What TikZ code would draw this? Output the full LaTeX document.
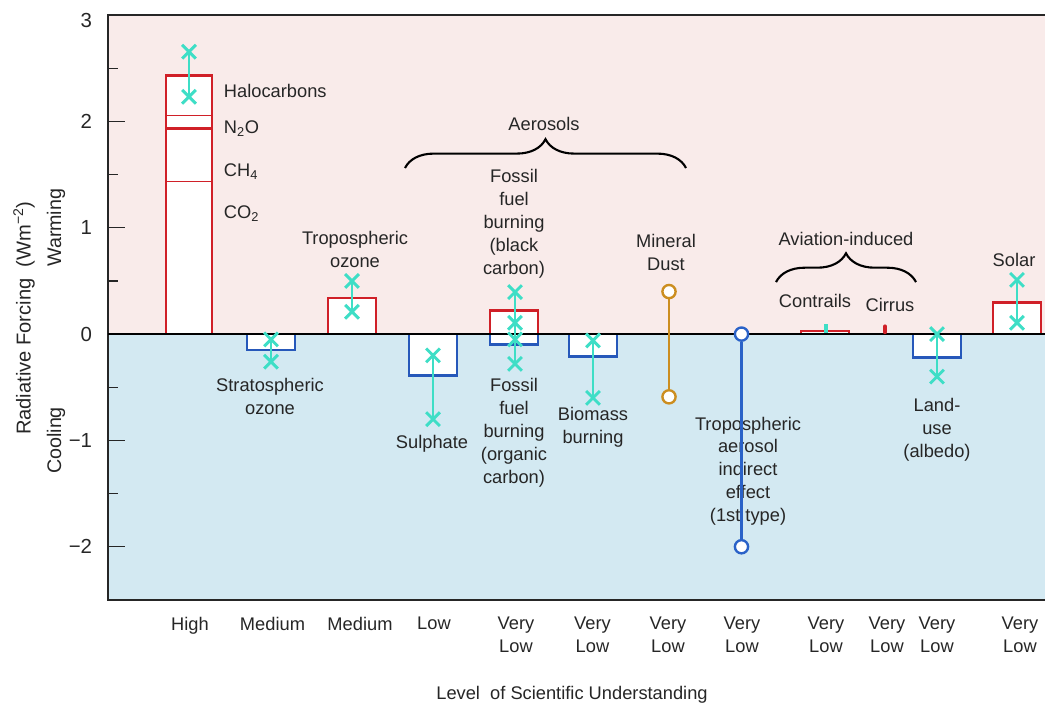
\documentclass[tikz,border=0pt]{standalone}
\usepackage{fontspec}
\setmainfont{Liberation Sans}
\usepackage{xcolor}
\usepackage{tikz}
\usetikzlibrary{shapes.misc,decorations.pathreplacing}
\definecolor{warmbg}{RGB}{249,235,234}
\definecolor{coolbg}{RGB}{211,233,242}
\definecolor{barred}{RGB}{208,32,40}
\definecolor{barblue}{RGB}{38,88,186}
\definecolor{errcyan}{RGB}{62,222,198}
\definecolor{dustgold}{RGB}{204,142,32}
\definecolor{indblue}{RGB}{42,98,200}
\tikzset{
  frameline/.style={draw=black!85, line width=0.9pt},
  warmbar/.style={draw=barred, fill=white, line width=1.9pt},   % positive forcing
  coolbar/.style={draw=barblue, fill=white, line width=1.9pt},  % negative forcing
  errline/.style={errcyan, line width=1.4pt},
  errmark/.style={cross out, draw=errcyan, line width=2.1pt, minimum size=0.27cm, inner sep=0pt},
  ringmark/.style={circle, fill=white, line width=1.7pt, minimum size=0.33cm, inner sep=0pt},
  lbl/.style={font=\fontsize{13}{16.3}\selectfont, align=center, text=black!85},
  levlbl/.style={lbl, anchor=north, inner sep=0pt},
  grpbrace/.style={decorate, decoration={brace, amplitude=0.72cm}, line width=1.5pt}
}
\newcommand{\ErrBar}[3]{% x, low, high
  \node[errmark] (lo#1) at (#1,#2) {};
  \node[errmark] (hi#1) at (#1,#3) {};
  \draw[errline] (lo#1.center) -- (hi#1.center);
}

\begin{document}
\begin{tikzpicture}[x=0.025cm, y=2.6575cm]
  \useasboundingbox (0,-3.5278) rectangle (1045,3.1421);
  % warming and cooling halves
  \fill[warmbg] (108,0) rectangle (1045,3);
  \fill[coolbg] (108,-2.5) rectangle (1045,0);
  % frame and ticks
  \draw[frameline] (1045,3) -- (108,3) -- (108,-2.5) -- (1045,-2.5);
  \foreach \v in {-2,...,3} \draw[frameline] (108,\v) -- ++(17,0);
  \foreach \v in {-1.5,-0.5,0.5,1.5,2.5} \draw[frameline] (108,\v) -- ++(10,0);
  \node[lbl, anchor=east, font=\fontsize{14.5}{16}\selectfont] (tick3) at (97,2.95) {3};
  \foreach \v/\t in {2/2,1/1,0/0,-1/−1,-2/−2}
    \node[lbl, anchor=east, font=\fontsize{14.5}{16}\selectfont] (tick\v) at (97,\v) {\t};

  % well-mixed greenhouse gases, stacked
  \draw[warmbar] (166,0) rectangle (212,2.43);
  \draw[barred, line width=0.9pt] (166,2.054) -- (212,2.054);
  \draw[barred, line width=1.9pt] (166,1.935) -- (212,1.935);
  \draw[barred, line width=0.9pt] (166,1.433) -- (212,1.433);
  % other bars
  \foreach \xl/\top in {328/0.34, 490/0.22, 801/0.03, 993/0.30}
    \draw[warmbar] (\xl,0) rectangle ++(48,\top);
  \foreach \xl/\bot in {247/-0.15, 409/-0.39, 490/-0.10, 569/-0.21, 913/-0.22}
    \draw[coolbar] (\xl,0) rectangle ++(48,\bot);
  \draw[black, line width=2pt] (108,0) -- (1045,0);

  % uncertainty ranges
  \foreach \ex/\lo/\hi in {189/2.232/2.656, 271/-0.26/-0.05, 352/0.21/0.5, 433/-0.8/-0.2,
      515/-0.28/0.395, 593/-0.6/-0.06, 937/-0.4/0, 1017/0.106/0.51}
    {\ErrBar{\ex}{\lo}{\hi}}
  \node[errmark] (ffmidA) at (515,0.106) {};
  \node[errmark] (ffmidB) at (515,-0.05) {};
  \draw[errcyan, line width=2.8pt] (826,0.01) -- (826,0.095);
  \draw[barred, line width=3.2pt, line cap=round] (885,0.02) -- (885,0.07);

  % labels
  \node[lbl, anchor=west] (halo) at (219,2.286) {Halocarbons};
  \node[lbl, anchor=west] (ntwoo) at (219,1.929) {N\textsubscript{2}O};
  \node[lbl, anchor=west] (chfour) at (219,1.524) {CH\textsubscript{4}};
  \node[lbl, anchor=west] (cotwo) at (219,1.129) {CO\textsubscript{2}};
  \node[lbl] (tropoz) at (355,0.795) {Tropospheric\\ozone};
  \node[lbl] (stratoz) at (270,-0.583) {Stratospheric\\ozone};
  \node[lbl] (aeros) at (544,1.976) {Aerosols};
  \node[lbl] (ffbc) at (514,1.035) {Fossil\\fuel\\burning\\(black\\carbon)};
  \node[lbl] (ffoc) at (514,-0.928) {Fossil\\fuel\\burning\\(organic\\carbon)};
  \node[lbl] (sulph) at (432,-1.035) {Sulphate};
  \node[lbl] (biom) at (593,-0.880) {Biomass\\burning};
  \node[lbl] (dust) at (666,0.767) {Mineral\\Dust};
  \node[lbl] (indir) at (748,-1.289) {Tropospheric\\aerosol\\indirect\\effect\\(1st type)};
  \node[lbl] (aviat) at (846,0.894) {Aviation-induced};
  \node[lbl] (contr) at (815,0.310) {Contrails};
  \node[lbl] (cirr) at (890,0.273) {Cirrus};
  \node[lbl] (landuse) at (937,-0.903) {Land-\\use\\(albedo)};
  \node[lbl] (solar) at (1014,0.696) {Solar};

  % ranges without a best estimate
  \node[ringmark, draw=dustgold] (dustHi) at (669,0.4) {};
  \node[ringmark, draw=dustgold] (dustLo) at (669,-0.59) {};
  \draw[dustgold, line width=1.7pt] (dustHi) -- (dustLo);
  \node[ringmark, draw=indblue] (indHi) at (741.5,0) {};
  \node[ringmark, draw=indblue] (indLo) at (741.5,-2) {};
  \draw[indblue, line width=1.7pt] (indHi) -- (indLo);

  % group braces
  \draw[grpbrace] (405,1.562) -- (686,1.562);
  \draw[grpbrace] (776,0.489) -- (916,0.489);

  % axis titles
  \node[lbl, rotate=90, font=\fontsize{14.3}{16}\selectfont] (ytitle) at (24,0.15) {Radiative Forcing\ \ (Wm\textsuperscript{−2})};
  \node[lbl, rotate=90, font=\fontsize{14}{16}\selectfont] (warm) at (56,1) {Warming};
  \node[lbl, rotate=90, font=\fontsize{14}{16}\selectfont] (cool) at (56,-1) {Cooling};
  \foreach \bx/\bt [count=\i] in {190/High, 272.5/Medium, 360/Medium, 434/Low,
      516/Very\\Low, 592.5/Very\\Low, 668/Very\\Low, 742/Very\\Low,
      826/Very\\Low, 887/Very\\Low, 937/Very\\Low, 1020/Very\\Low}
    \node[levlbl] (lev\i) at (\bx,-2.662) {\bt};
  \node[lbl] (levtitle) at (572,-3.396) {Level\ \ of Scientific Understanding};
\end{tikzpicture}
\end{document}
